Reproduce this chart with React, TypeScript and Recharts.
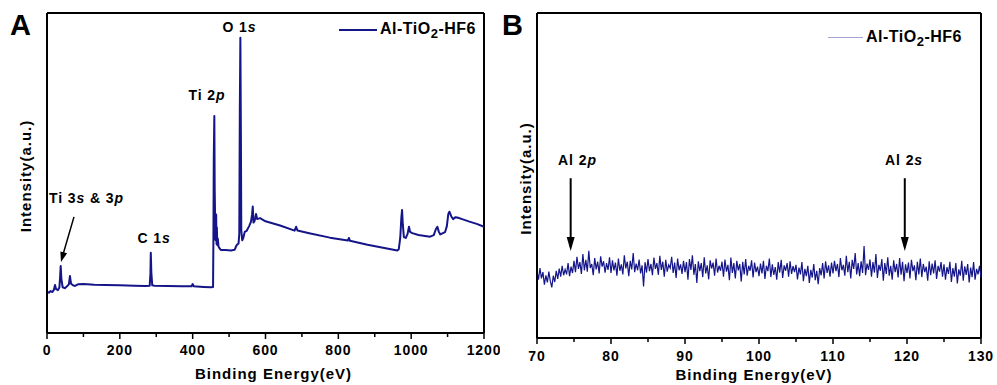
import React from "react";
import {
  LineChart,
  Line,
  XAxis,
  YAxis,
  Legend,
  ReferenceDot,
  ReferenceLine,
} from "recharts";

const FONT = '"Liberation Sans", Arial, sans-serif';
const NAVY = "#15158a";
const LAVENDER = "#a3a3d2";

// panel A: survey spectrum
const SURVEY_BE = [
  0, 5, 10, 15, 19, 22, 25, 30, 34, 36, 37.6, 39.5, 43, 49, 55, 60, 63, 66, 72, 77, 85, 100, 130, 160, 200,
  240, 270, 282, 284, 285, 286.5, 289, 295, 330, 370, 397, 400, 403, 430, 450, 456, 457, 458, 459.5, 460.5,
  461.5, 462.5, 463.5, 464.5, 465.5, 466.5, 467.5, 469, 471, 474, 478, 490, 505, 515, 521, 526, 528, 529.5,
  531, 532.5, 533.5, 536, 539, 543, 548, 555, 560, 563, 565, 567, 570, 574, 577, 585, 600, 640, 680, 684,
  688, 720, 777, 826, 829, 832, 880, 930, 962, 966, 970, 973, 975, 977, 980, 985, 990, 994, 997, 1003, 1020,
  1052, 1062, 1068, 1072, 1076, 1080, 1093, 1098, 1102, 1105, 1110, 1115, 1122, 1129, 1140, 1160, 1180, 1200,
];
const SURVEY_INT = [
  12.9, 12.6, 13.1, 12.8, 13.5, 15.0, 13.7, 13.4, 14.2, 17.5, 20.9, 16.8, 14.3, 14.0, 14.6, 15.2, 17.8, 15.4,
  14.9, 14.7, 15.2, 15.3, 15.1, 15.0, 14.9, 14.8, 14.7, 14.8, 18.5, 25.1, 19.0, 14.9, 14.8, 14.7, 14.6, 14.6,
  15.3, 14.6, 14.4, 14.3, 14.4, 30.0, 55.0, 67.8, 45.0, 36.9, 29.1, 33.8, 37.0, 27.8, 33.0, 27.5, 29.5, 27.0,
  26.4, 25.9, 25.9, 25.8, 26.0, 27.5, 28.0, 31.0, 70.0, 92.3, 60.0, 32.0, 29.0, 29.7, 31.6, 31.9, 33.4, 34.7,
  36.9, 39.5, 34.5, 35.0, 37.2, 35.6, 35.9, 34.9, 33.6, 32.0, 33.2, 32.0, 31.2, 29.8, 28.9, 29.7, 28.8, 27.6,
  26.5, 25.8, 26.2, 29.7, 36.0, 38.4, 34.0, 30.0, 29.7, 30.9, 33.2, 31.6, 31.2, 30.6, 30.1, 30.6, 32.5, 33.2,
  31.6, 30.8, 31.5, 33.4, 37.2, 37.9, 36.5, 35.6, 36.2, 36.0, 35.6, 34.8, 34.1, 33.2,
];
const A_TICKS = [0, 100, 200, 300, 400, 500, 600, 700, 800, 900, 1000, 1100, 1200];
const A_LABELS = [0, 200, 400, 600, 800, 1000, 1200];

// panel B: Al 2p / Al 2s window, 0.2 eV steps from 70 eV (25 points per 5 eV row)
const B_START = 70;
const B_STEP = 0.2;
const B_INT = [
  20.8, 18.9, 21.5, 19.2, 20.6, 17.8, 19.9, 18.3, 20.7, 18.6, 17.2, 19.8, 18.4, 20.9, 19.1, 21.4, 19.6, 22.0, 19.9, 21.2, 20.1, 22.6, 19.7, 21.8, 20.4,
  23.1, 20.6, 24.0, 21.3, 22.8, 20.2, 24.6, 21.0, 23.3, 20.7, 25.3, 21.5, 22.4, 19.9, 23.7, 21.2, 22.9, 20.3, 24.1, 21.8, 23.0, 20.5, 22.6, 21.1, 23.9,
  20.4, 23.2, 21.0, 22.7, 19.8, 23.6, 20.9, 22.3, 20.1, 24.3, 21.4, 22.9, 19.7, 23.1, 21.2, 24.8, 20.6, 22.5, 21.0, 23.4, 20.3, 22.1, 17.4, 22.8, 20.5,
  23.5, 20.8, 22.4, 19.9, 23.8, 21.3, 22.6, 20.0, 24.2, 21.1, 22.9, 19.6, 23.3, 20.7, 22.2, 21.5, 24.0, 20.4, 22.7, 19.3, 23.6, 21.0, 22.3, 20.2, 23.1,
  20.6, 22.8, 18.9, 23.5, 21.1, 24.3, 20.0, 22.4, 18.2, 23.0, 20.8, 22.6, 19.5, 23.9, 20.3, 22.1, 19.0, 23.2, 21.4, 22.7, 19.8, 23.6, 20.5, 22.0, 20.9,
  22.9, 19.6, 23.4, 20.7, 22.2, 18.8, 23.8, 20.4, 22.6, 19.2, 23.1, 21.0, 22.4, 18.5, 22.9, 20.1, 23.5, 19.8, 22.0, 20.9, 23.2, 19.4, 22.7, 20.6, 21.8,
  19.7, 22.5, 20.3, 23.1, 19.1, 22.0, 20.8, 23.6, 19.5, 22.3, 20.0, 21.7, 18.9, 22.8, 20.5, 23.3, 19.3, 22.1, 20.9, 22.6, 19.6, 23.0, 20.2, 21.9, 20.6,
  22.2, 19.0, 21.6, 20.1, 22.8, 18.6, 21.3, 19.7, 22.0, 18.2, 21.1, 19.4, 22.4, 18.8, 20.9, 17.9, 21.5, 19.9, 22.6, 19.2, 23.0, 20.4, 22.1, 19.6, 22.7,
  20.3, 23.1, 20.8, 22.4, 19.5, 23.7, 21.0, 22.2, 19.8, 24.2, 20.6, 22.9, 19.2, 23.3, 21.3, 24.8, 20.1, 22.6, 19.7, 23.0, 20.4, 26.4, 19.9, 22.5, 21.1,
  23.4, 19.6, 22.8, 20.5, 24.6, 19.3, 22.2, 20.9, 23.5, 18.7, 22.6, 20.2, 23.9, 19.8, 22.0, 18.9, 23.2, 20.6, 22.4, 19.4, 23.7, 20.0, 22.9, 18.6, 22.3,
  20.4, 22.7, 19.2, 23.3, 20.8, 22.1, 18.8, 22.9, 20.1, 23.6, 19.5, 22.4, 20.6, 21.8, 18.7, 23.0, 19.9, 22.5, 20.3, 23.2, 19.1, 22.0, 20.7, 22.8, 19.6,
  22.3, 18.9, 21.7, 20.2, 22.9, 18.4, 21.5, 19.6, 22.6, 18.1, 21.2, 19.8, 23.1, 18.7, 21.9, 20.0, 22.4, 18.3, 21.6, 19.5, 22.8, 18.9, 21.3, 20.1, 22.0,
  19.4,
];
const B_TICKS = [70, 75, 80, 85, 90, 95, 100, 105, 110, 115, 120, 125, 130];
const B_LABELS = [70, 80, 90, 100, 110, 120, 130];

const surveyData = SURVEY_BE.map((be, i) => ({ be, v: SURVEY_INT[i] }));
const alData = B_INT.map((v, i) => ({ be: B_START + i * B_STEP, v }));

const txt = { fontFamily: FONT, fontWeight: 700, fontSize: 14, letterSpacing: 0.9, fill: "#000" };
const title = { ...txt, fontSize: 15, letterSpacing: 1 };
const frame = { stroke: "#000", strokeWidth: 2 };

const makeTick = (labels: number[], labelDy: number) => (props: any) => {
  const { x, y, payload } = props;
  const major = labels.includes(payload.value);
  return (
    <g>
      <line x1={x} x2={x} y1={y} y2={y + (major ? 6 : 4)} stroke="#000" strokeWidth={1.5} />
      {major && (
        <text x={x} y={y + labelDy} textAnchor="middle" {...txt}>
          {payload.value}
        </text>
      )}
    </g>
  );
};

const yTitle = (cx: number) => (props: any) => {
  const vb = props.viewBox || { y: 13, height: 320 };
  const cy = vb.y + vb.height / 2 + 3;
  return (
    <text x={cx} y={cy} transform={`rotate(-90 ${cx} ${cy})`} textAnchor="middle" dominantBaseline="central" {...title}>
      Intensity(a.u.)
    </text>
  );
};

// text annotation: parts = [text, italic?]
const note = (parts: [string, boolean][]) => (props: any) => (
  <text x={props.cx} y={props.cy} textAnchor="middle" {...txt}>
    {parts.map(([t, it], i) => (
      <tspan key={i} fontStyle={it ? "italic" : "normal"}>
        {t}
      </tspan>
    ))}
  </text>
);

const arrowHead = (angle: number, len: number, w: number) => (props: any) => (
  <polygon
    points={`0,0 ${-len},${-w / 2} ${-len},${w / 2}`}
    fill="#000"
    transform={`translate(${props.cx} ${props.cy}) rotate(${angle})`}
  />
);

const legendContent = (color: string, lineW: number, strokeW: number) => () => (
  <div style={{ display: "flex", alignItems: "center", fontFamily: FONT, fontWeight: 700, fontSize: 16, letterSpacing: 0.5, lineHeight: "18px", whiteSpace: "nowrap", color: "#000" }}>
    <span style={{ display: "inline-block", width: lineW, borderTop: `${strokeW}px solid ${color}`, marginRight: 3 }} />
    <span>
      Al-TiO<span style={{ fontSize: 13, position: "relative", top: 4 }}>2</span>-HF6
    </span>
  </div>
);

function PanelA() {
  return (
    <LineChart width={500} height={385} data={surveyData} margin={{ top: 13, right: 16, bottom: 0, left: 0 }}>
      <XAxis
        dataKey="be"
        type="number"
        domain={[0, 1200]}
        ticks={A_TICKS}
        height={52}
        axisLine={frame}
        tickLine={false}
        tickSize={0}
        tickMargin={0}
        tick={makeTick(A_LABELS, 22)}
        interval={0}
        label={{ value: "Binding Energy(eV)", position: "insideBottom", offset: 6, dx: 8, ...title }}
      />
      <YAxis type="number" domain={[0, 100]} width={47} tick={false} tickLine={false} axisLine={frame} label={yTitle(25)} />
      <ReferenceLine y={100} stroke="#000" strokeWidth={2} />
      <ReferenceLine x={1200} stroke="#000" strokeWidth={2} />
      <Legend layout="vertical" align="center" verticalAlign="middle" wrapperStyle={{ top: 20, left: 339 }} content={legendContent(NAVY, 38, 2)} />
      <Line dataKey="v" type="linear" stroke={NAVY} strokeWidth={2} strokeLinejoin="round" dot={false} isAnimationActive={false} />
      <ReferenceLine segment={[{ x: 74.1, y: 36.3 }, { x: 40, y: 23 }]} stroke="#000" strokeWidth={1.5} />
      <ReferenceDot x={38.4} y={22.2} r={0} shape={arrowHead(106, 10, 7)} />
      <ReferenceDot x={108.5} y={40.6} r={0} shape={note([["Ti 3", false], ["s", true], [" & 3", false], ["p", true]])} />
      <ReferenceDot x={293.8} y={28.1} r={0} shape={note([["C 1", false], ["s", true]])} />
      <ReferenceDot x={439.3} y={72.8} r={0} shape={note([["Ti 2", false], ["p", true]])} />
      <ReferenceDot x={528.6} y={94.1} r={0} shape={note([["O 1", false], ["s", true]])} />
    </LineChart>
  );
}

function PanelB() {
  return (
    <LineChart width={497} height={385} data={alData} margin={{ top: 13, right: 16, bottom: 0, left: 0 }}>
      <XAxis
        dataKey="be"
        type="number"
        domain={[70, 130]}
        ticks={B_TICKS}
        height={47}
        axisLine={frame}
        tickLine={false}
        tickSize={0}
        tickMargin={0}
        tick={makeTick(B_LABELS, 23)}
        interval={0}
        label={{ value: "Binding Energy(eV)", position: "insideBottom", offset: 5, dx: -5, ...title }}
      />
      <YAxis type="number" domain={[6, 78]} width={37} tick={false} tickLine={false} axisLine={frame} label={yTitle(25)} />
      <ReferenceLine y={78} stroke="#000" strokeWidth={2} />
      <ReferenceLine x={130} stroke="#000" strokeWidth={2} />
      <Legend layout="vertical" align="center" verticalAlign="middle" wrapperStyle={{ top: 28, left: 328 }} content={legendContent(LAVENDER, 35, 1.5)} />
      <Line dataKey="v" type="linear" stroke={NAVY} strokeWidth={1.2} dot={false} isAnimationActive={false} />
      <ReferenceLine segment={[{ x: 74.55, y: 41.4 }, { x: 74.55, y: 26.2 }]} stroke="#000" strokeWidth={2} />
      <ReferenceDot x={74.55} y={25.3} r={0} shape={arrowHead(90, 14, 8)} />
      <ReferenceLine segment={[{ x: 119.7, y: 41.4 }, { x: 119.7, y: 26.2 }]} stroke="#000" strokeWidth={2} />
      <ReferenceDot x={119.7} y={25.3} r={0} shape={arrowHead(90, 14, 8)} />
      <ReferenceDot x={75.47} y={44.3} r={0} shape={note([["Al 2", false], ["p", true]])} />
      <ReferenceDot x={119.6} y={44.3} r={0} shape={note([["Al 2", false], ["s", true]])} />
    </LineChart>
  );
}

export default function App() {
  const letter: React.CSSProperties = { position: "absolute", top: 8, fontFamily: FONT, fontWeight: 700, fontSize: 29, lineHeight: "34px" };
  return (
    <div style={{ position: "absolute", left: 0, top: 0, width: 997, height: 385, background: "#fff", overflow: "hidden" }}>
      <div style={{ position: "absolute", left: 0, top: 0 }}>
        <PanelA />
      </div>
      <div style={{ position: "absolute", left: 500, top: 0 }}>
        <PanelB />
      </div>
      <div style={{ ...letter, left: 10 }}>A</div>
      <div style={{ ...letter, left: 502 }}>B</div>
    </div>
  );
}
